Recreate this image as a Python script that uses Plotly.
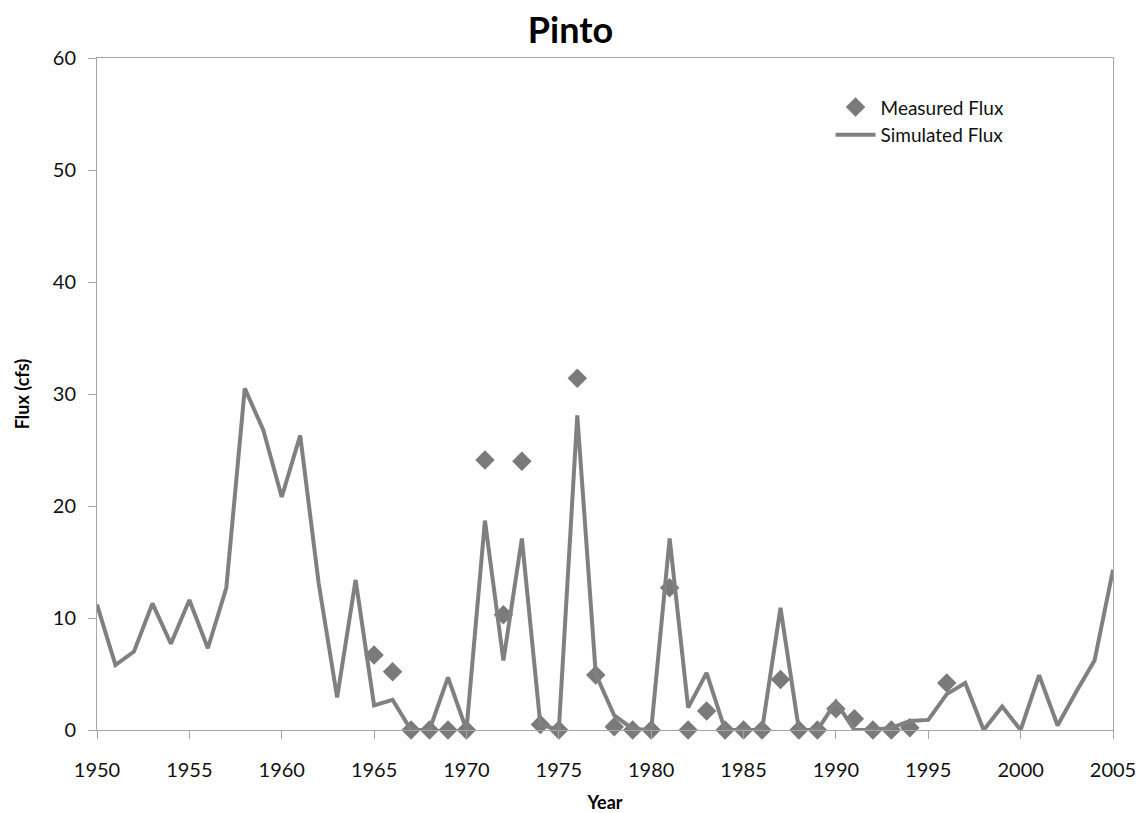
import plotly.graph_objects as go

# Simulated annual flux, 1950-2005
sim_years = list(range(1950, 2006))
sim_flux = [11.2, 5.8, 7.0, 11.3, 7.7, 11.6, 7.3, 12.7, 30.5, 26.8,
            20.8, 26.3, 13.1, 2.9, 13.4, 2.2, 2.7, 0.0, 0.0, 4.7,
            0.0, 18.7, 6.2, 17.1, 0.5, 0.0, 28.1, 5.0, 1.3, 0.1,
            0.0, 17.1, 2.0, 5.1, 0.0, 0.0, 0.0, 10.9, 0.0, 0.0,
            2.5, 0.0, 0.0, 0.2, 0.8, 0.9, 3.2, 4.2, 0.0, 2.1,
            0.0, 4.9, 0.4, 3.4, 6.2, 14.3]

# Measured flux observations
meas_years = [1965, 1966, 1967, 1968, 1969, 1970, 1971, 1972, 1973, 1974,
              1975, 1976, 1977, 1978, 1979, 1980, 1981, 1982, 1983, 1984,
              1985, 1986, 1987, 1988, 1989, 1990, 1991, 1992, 1993, 1994,
              1996]
meas_flux = [6.7, 5.2, 0.0, 0.0, 0.0, 0.0, 24.1, 10.3, 24.0, 0.5,
             0.0, 31.4, 4.9, 0.3, 0.0, 0.0, 12.7, 0.0, 1.7, 0.0,
             0.0, 0.0, 4.5, 0.0, 0.0, 1.9, 1.0, 0.0, 0.0, 0.2,
             4.2]

x_ticks = list(range(1950, 2006, 5))
y_ticks = list(range(0, 61, 10))

GRAY = "#808080"
FONT = "Lato, Open Sans, sans-serif"

fig = go.Figure()
fig.add_trace(go.Scatter(
    x=meas_years, y=meas_flux, mode="markers", name="Measured Flux",
    marker=dict(symbol="diamond", size=15, color="#7a7a7a"),
    cliponaxis=False,
))
fig.add_trace(go.Scatter(
    x=sim_years, y=sim_flux, mode="lines", name="Simulated Flux",
    line=dict(color=GRAY, width=4),
    cliponaxis=False,
))

axis_common = dict(
    showgrid=False, zeroline=False, showline=True, linecolor="#a6a6a6",
    linewidth=1, mirror=True, ticks="outside", ticklen=8, tickcolor="#a6a6a6",
    tickfont=dict(family=FONT, size=20, color="#111111"),
    automargin=False,
)

fig.update_layout(
    width=1141, height=813,
    margin=dict(l=97, r=28, t=58, b=83),
    paper_bgcolor="white", plot_bgcolor="white",
    title=dict(text="<b>Pinto</b>", x=0.5, xanchor="center", y=0.978,
               yanchor="top", font=dict(family=FONT, size=36, color="#000000")),
    xaxis=dict(range=[1950, 2005], tickvals=x_ticks, ticklabelstandoff=14,
               title=dict(text="<b>Year</b>", font=dict(family=FONT, size=18, color="#000000"),
                          standoff=16),
               **axis_common),
    yaxis=dict(range=[0, 60], tickvals=y_ticks, ticklabelstandoff=8,
               title=dict(text="<b>Flux (cfs)</b>", font=dict(family=FONT, size=18, color="#000000"),
                          standoff=18),
               **axis_common),
    legend=dict(x=0.722, y=0.955, xanchor="left", yanchor="top",
                bgcolor="rgba(0,0,0,0)", tracegroupgap=0,
                font=dict(family=FONT, size=19, color="#111111"),
                itemwidth=40),
    showlegend=True,
)

fig.write_html("out.html")
